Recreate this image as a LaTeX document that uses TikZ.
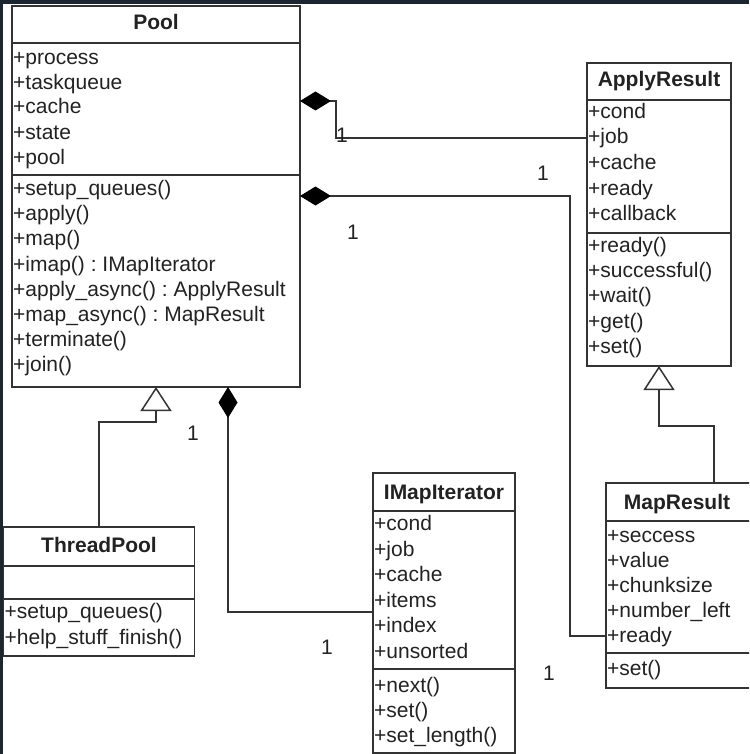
\documentclass[tikz,border=0pt]{standalone}
\usepackage{fontspec}
\setmainfont{Liberation Sans}
\frenchspacing
\usetikzlibrary{arrows.meta}
\definecolor{bgdark}{HTML}{1B2631}
\definecolor{linec}{HTML}{333333}
\definecolor{txtc}{HTML}{222222}
\tikzset{
  x=1pt, y=-1pt,
  umlbox/.style={draw=linec, line width=1.6pt, fill=white, anchor=north west, inner sep=0pt, outer sep=0pt},
  sepline/.style={draw=linec, line width=1.6pt},
  attr/.style={font=\fontsize{21}{25}\selectfont, anchor=base west, yshift=-5.5pt, inner sep=0pt, text=txtc},
  ttl/.style={font=\fontsize{21}{25}\selectfont\bfseries, anchor=base, yshift=-7pt, inner sep=0pt, text=txtc},
  mult/.style={font=\fontsize{21}{25}\selectfont, anchor=base, yshift=-7.5pt, inner sep=0pt, text=txtc},
  conn/.style={draw=linec, line width=1.5pt},
  comp/.style={conn, {Diamond[length=31pt,width=19pt,fill=black,color=black]}-},
  gen/.style={conn, -{Triangle[open,length=24pt,width=31pt,fill=white,color=linec,line width=1.5pt]}}
}
\begin{document}
\begin{tikzpicture}
\useasboundingbox (0,0) rectangle (749,754);
\clip (0,0) rectangle (749,754);
\fill[bgdark] (0,0) rectangle (749,754);
\fill[white] (2.5,4) rectangle (749,754);

% ---------- Pool ----------
\node[umlbox, minimum width=288pt, minimum height=381pt] (pool) at (12,6) {};
\draw[sepline] (12,43) -- (300,43);
\draw[sepline] (12,175) -- (300,175);
\node[ttl] (pooltitle) at (156,23) {Pool};
\node[attr] (p1) at (13,59) {+process};
\node[attr] (p2) at (13,84) {+taskqueue};
\node[attr] (p3) at (13,108.5) {+cache};
\node[attr] (p4) at (13,134) {+state};
\node[attr] (p5) at (13,159) {+pool};
\node[attr] (pm1) at (13,190) {+setup\_queues()};
\node[attr] (pm2) at (13,215.2) {+apply()};
\node[attr] (pm3) at (13,240.4) {+map()};
\node[attr] (pm4) at (13,265.6) {+imap() : IMapIterator};
\node[attr] (pm5) at (13,290.8) {+apply\_async() : ApplyResult};
\node[attr] (pm6) at (13,316) {+map\_async() : MapResult};
\node[attr] (pm7) at (13,341.2) {+terminate()};
\node[attr] (pm8) at (13,366.4) {+join()};

% ---------- ApplyResult ----------
\node[umlbox, minimum width=144pt, minimum height=303pt] (ar) at (587,63) {};
\draw[sepline] (587,100) -- (731,100);
\draw[sepline] (587,233) -- (731,233);
\node[ttl] (artitle) at (659,80) {ApplyResult};
\node[attr] (a1) at (588,113) {+cond};
\node[attr] (a2) at (588,138.5) {+job};
\node[attr] (a3) at (588,164) {+cache};
\node[attr] (a4) at (588,189.5) {+ready};
\node[attr] (a5) at (588,215) {+callback};
\node[attr] (am1) at (588,247) {+ready()};
\node[attr] (am2) at (588,272.2) {+successful()};
\node[attr] (am3) at (588,297.4) {+wait()};
\node[attr] (am4) at (588,322.6) {+get()};
\node[attr] (am5) at (588,347.8) {+set()};

% ---------- IMapIterator ----------
\node[umlbox, minimum width=142pt, minimum height=280pt] (im) at (373,473) {};
\draw[sepline] (373,511) -- (515,511);
\draw[sepline] (373,669) -- (515,669);
\node[ttl] (imtitle) at (444,492) {IMapIterator};
\node[attr] (i1) at (374,525) {+cond};
\node[attr] (i2) at (374,550.5) {+job};
\node[attr] (i3) at (374,576) {+cache};
\node[attr] (i4) at (374,601.5) {+items};
\node[attr] (i5) at (374,627) {+index};
\node[attr] (i6) at (374,652.5) {+unsorted};
\node[attr] (im1) at (374,686.5) {+next()};
\node[attr] (im2) at (374,712) {+set()};
\node[attr] (im3) at (374,737) {+set\_length()};

% ---------- MapResult ----------
\node[umlbox, minimum width=146pt, minimum height=205pt] (mr) at (606,483) {};
\draw[sepline] (606,521) -- (752,521);
\draw[sepline] (606,653) -- (752,653);
\node[ttl] (mrtitle) at (677,502) {MapResult};
\node[attr] (m1) at (607,537) {+seccess};
\node[attr] (m2) at (607,562) {+value};
\node[attr] (m3) at (607,587) {+chunksize};
\node[attr] (m4) at (607,612) {+number\_left};
\node[attr] (m5) at (607,637) {+ready};
\node[attr] (mm1) at (607,670) {+set()};

% ---------- ThreadPool ----------
\node[umlbox, minimum width=191pt, minimum height=129pt] (tp) at (3.5,527) {};
\draw[sepline] (3.5,566) -- (194.5,566);
\draw[sepline] (3.5,599) -- (194.5,599);
\node[ttl] (tptitle) at (99,545) {ThreadPool};
\node[attr] (t1) at (4.5,613) {+setup\_queues()};
\node[attr] (t2) at (4.5,639) {+help\_stuff\_finish()};

% ---------- connectors ----------
\coordinate (k1) at (336,101);
\coordinate (k2) at (570,196);
\coordinate (k3) at (228,612);
\coordinate (k4) at (98.5,422);
\coordinate (k5) at (714,426);
\coordinate (k6) at (587,138);
\coordinate (k7) at (606,636);

\draw[comp] (k1 -| pool.east) -- (k1) |- (k6);
\draw[comp] (k2 -| pool.east) -- (k2) |- (k7);
\draw[comp] (k3 |- pool.south) -- (k3) -- (k3 -| im.west);
\draw[gen] (tp.north) |- (k4 -| pool.south) -- (pool.south);
\draw[gen] (k5 |- mr.north) -- (k5) -| (ar.south);

% ---------- multiplicities ----------
\node[mult] (n1) at (342,135) {1};
\node[mult] (n2) at (543,173) {1};
\node[mult] (n3) at (353,232) {1};
\node[mult] (n4) at (193,433) {1};
\node[mult] (n5) at (327,647) {1};
\node[mult] (n6) at (549,673) {1};
\end{tikzpicture}
\end{document}
